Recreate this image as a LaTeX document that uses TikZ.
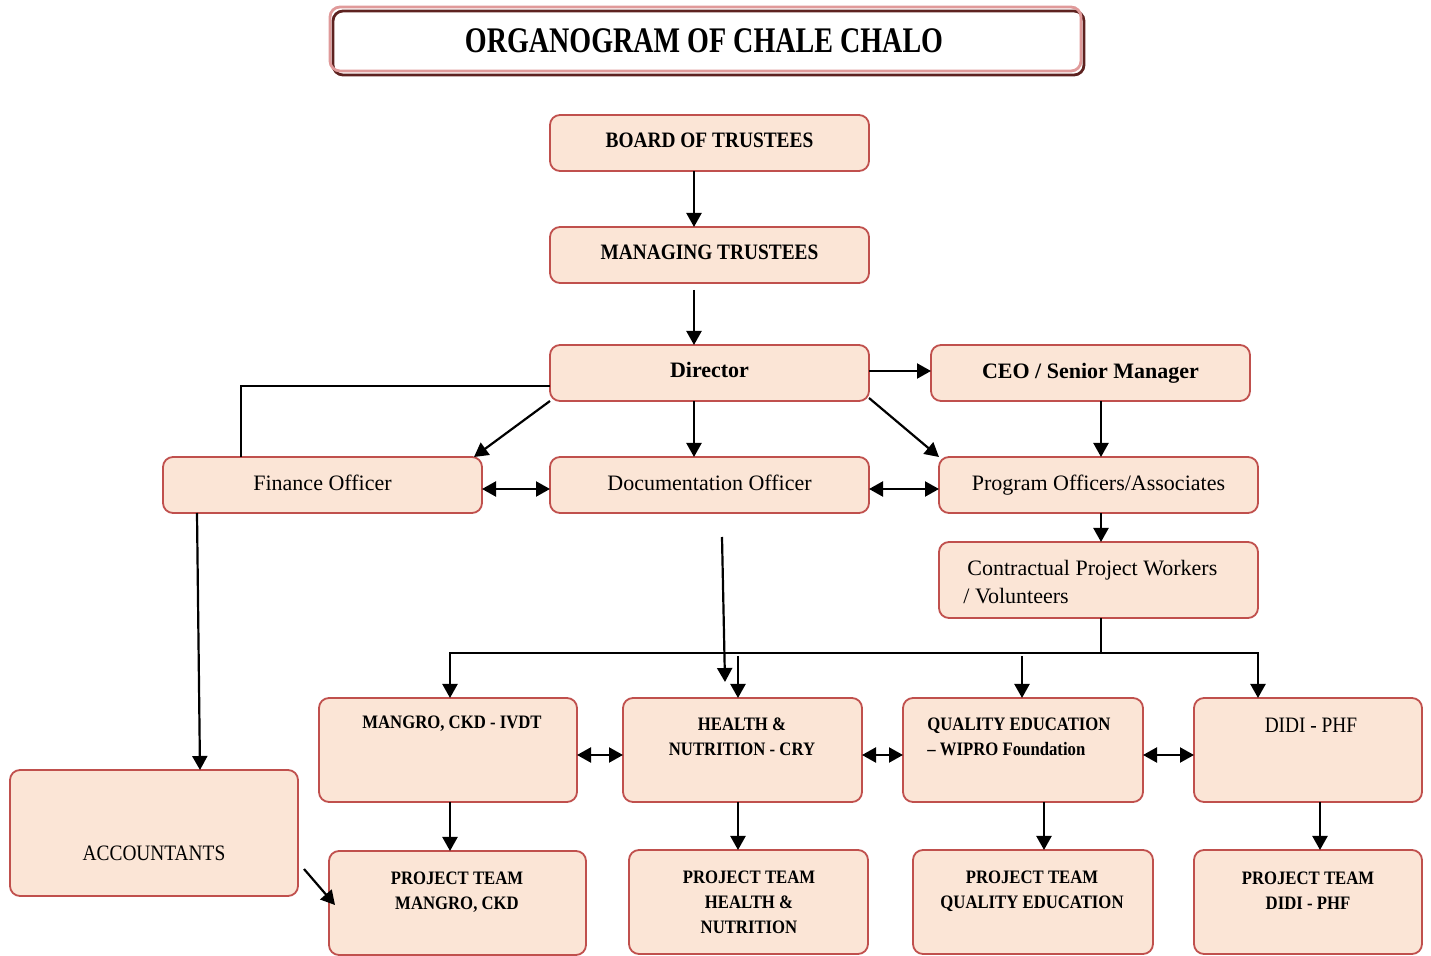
\documentclass[tikz,border=0pt]{standalone}
\usepackage{fontspec}
\setmainfont{Liberation Serif}
\newfontfamily\capsfont[FakeStretch=0.88]{Liberation Serif}
\newfontfamily\ttlfont[FakeStretch=0.78]{Liberation Serif}
\usetikzlibrary{arrows.meta,calc}
\definecolor{boxfill}{HTML}{FBE5D6}
\definecolor{boxline}{HTML}{C0504D}
\definecolor{ttlpink}{HTML}{E09A9A}
\definecolor{ttldark}{HTML}{5E2220}
\tikzset{
 org/.style={draw=boxline, fill=boxfill, line width=0.9pt, rounded corners=5pt, inner sep=0pt, outer sep=0pt},
 arr/.style={line width=1.1pt, -{Triangle[length=7pt,width=7.5pt]}},
 darr/.style={line width=1.1pt, {Triangle[length=7pt,width=7.5pt]}-{Triangle[length=7pt,width=7.5pt]}},
 ln/.style={line width=1.1pt},
 reg/.style={font=\fontsize{11}{14}\selectfont},
 regb/.style={font=\bfseries\fontsize{11}{14}\selectfont},
 capb/.style={font=\capsfont\bfseries\fontsize{11}{14}\selectfont},
 capr/.style={font=\capsfont\fontsize{11}{14}\selectfont},
 smb/.style={font=\capsfont\bfseries\fontsize{9.5}{12.5}\selectfont, align=center, inner sep=0pt},
}
\begin{document}
\begin{tikzpicture}[x=0.5pt,y=-0.5pt]
\useasboundingbox (0,0) rectangle (1431,956);
% title
\node[draw=ttldark, line width=1.4pt, rounded corners=5pt, minimum width=375.5pt, minimum height=32pt, inner sep=0pt] (ttlframe) at (708.5,43) {};
\node[draw=ttlpink, line width=1.4pt, rounded corners=5pt, minimum width=375.5pt, minimum height=32pt, inner sep=0pt] (title) at (705.5,39) {};
\node[font=\ttlfont\bfseries\fontsize{18}{20}\selectfont] (ttltext) at (704,41) {ORGANOGRAM OF CHALE CHALO};

% boxes
\node[org, capb, text depth=2.4pt, minimum width=159.5pt, minimum height=28pt] (bot) at (709.5,143) {BOARD OF TRUSTEES};
\node[org, capb, text depth=2.4pt, minimum width=159.5pt, minimum height=28pt] (mt) at (709.5,255) {MANAGING TRUSTEES};
\node[org, regb, text depth=3.2pt, minimum width=159.5pt, minimum height=28pt] (dir) at (709.5,373) {Director};
\node[org, regb, minimum width=159.5pt, minimum height=28pt] (ceo) at (1090.5,373) {CEO / Senior Manager};
\node[org, reg, text depth=2.4pt, minimum width=159.5pt, minimum height=28pt] (fin) at (322.5,485) {Finance Officer};
\node[org, reg, text depth=2.4pt, minimum width=159.5pt, minimum height=28pt] (doc) at (709.5,485) {Documentation Officer};
\node[org, reg, minimum width=159.5pt, minimum height=28pt] (prog) at (1098.5,485) {Program Officers/Associates};
\node[org, minimum width=159.5pt, minimum height=38pt] (contr) at (1098.5,580) {};
\node[reg, align=left, anchor=west, inner sep=0pt] (contrt) at (963,582) {\hspace*{2pt}Contractual Project Workers\\/ Volunteers};

\node[org, minimum width=129pt, minimum height=52pt] (mangro) at (448,750) {};
\node[org, minimum width=119.5pt, minimum height=52pt] (health) at (742.5,750) {};
\node[org, minimum width=120pt, minimum height=52pt] (quality) at (1023,750) {};
\node[org, minimum width=114pt, minimum height=52pt] (didi) at (1308,750) {};
\node[smb] (mangrot) at (452,724) {MANGRO, CKD - IVDT};
\node[smb] (healtht) at (742,736.5) {HEALTH \&\\NUTRITION - CRY};
\node[smb, align=left, anchor=west] (qualityt) at (927,736.5) {QUALITY EDUCATION\\– WIPRO Foundation};
\node[capr, inner sep=0pt] (didit) at (1311,725) {DIDI - PHF};

\node[org, capr, minimum width=144pt, minimum height=63pt] (acc) at (154,833) {};
\node[capr, inner sep=0pt] (acct) at (154,853) {ACCOUNTANTS};

\node[org, minimum width=128.5pt, minimum height=52pt] (ptm) at (457.5,903) {};
\node[org, minimum width=119.5pt, minimum height=52pt] (pth) at (748.5,902) {};
\node[org, minimum width=120pt, minimum height=52pt] (ptq) at (1033,902) {};
\node[org, minimum width=114pt, minimum height=52pt] (ptd) at (1308,902) {};
\node[smb] (ptmt) at (457,892) {PROJECT TEAM\\MANGRO, CKD};
\node[smb] (ptht) at (749,902.5) {PROJECT TEAM\\HEALTH \&\\NUTRITION};
\node[smb] (ptqt) at (1032,891) {PROJECT TEAM\\QUALITY EDUCATION};
\node[smb] (ptdt) at (1308,891) {PROJECT TEAM\\DIDI - PHF};

% connectors
\draw[arr] (bot.south -| 694,0) -- (mt.north -| 694,0);
\draw[arr] ($(mt.south -| 694,0)+(0,7)$) -- (dir.north -| 694,0);
\draw[arr] (dir.east |- 0,371) -- (ceo.west |- 0,371);
\draw[ln] (dir.west |- 0,386) -| (fin.north -| 241,0);
\draw[arr] (dir.south west) -- (fin.north -| 474,0);
\draw[arr] (dir.south -| 694,0) -- (doc.north -| 694,0);
\draw[arr] ($(dir.south east)+(0,-3)$) -- (prog.north west);
\draw[arr] (ceo.south -| 1101,0) -- (prog.north -| 1101,0);
\draw[darr] (fin.east |- 0,489) -- (doc.west |- 0,489);
\draw[darr] (doc.east |- 0,489) -- (prog.west |- 0,489);
\draw[arr] (prog.south -| 1101,0) -- (contr.north -| 1101,0);
\coordinate (bus) at (1101,653);
\draw[arr] (contr.south -| bus) -- (bus) -| (mangro.north -| 450,0);
\draw[arr] (bus) -| (didi.north -| 1258,0);
\coordinate (hs) at (738,656);
\coordinate (qs) at (1022,656);
\draw[arr] (hs) -- (health.north -| hs);
\draw[arr] (qs) -- (quality.north -| qs);
\coordinate (ds) at (722,537);
\coordinate (de) at (725,682);
\draw[arr] (ds) -- (de);
\draw[arr] (fin.south -| 197,0) -- (acc.north -| 200,0);
\coordinate (as) at (304,869);
\draw[arr] (as) -- ($(ptm.west)+(6,2)$);
\draw[darr] (mangro.east |- 0,755) -- (health.west |- 0,755);
\draw[darr] (health.east |- 0,755) -- (quality.west |- 0,755);
\draw[darr] (quality.east |- 0,755) -- (didi.west |- 0,755);
\draw[arr] (mangro.south -| 450,0) -- (ptm.north -| 450,0);
\draw[arr] (health.south -| 738,0) -- (pth.north -| 738,0);
\draw[arr] (quality.south -| 1044,0) -- (ptq.north -| 1044,0);
\draw[arr] (didi.south -| 1320,0) -- (ptd.north -| 1320,0);
\end{tikzpicture}
\end{document}
